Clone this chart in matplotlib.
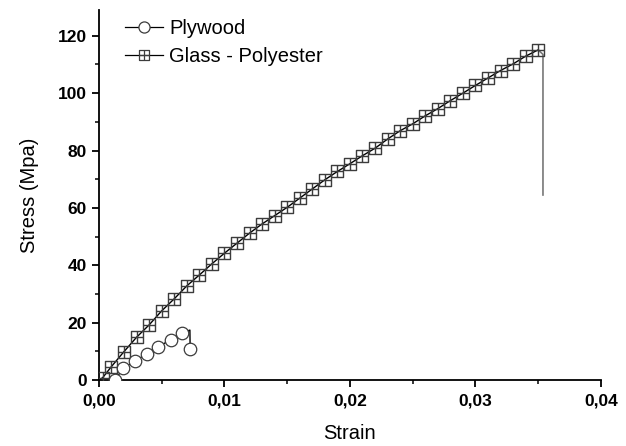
import matplotlib
matplotlib.use("Agg")
import matplotlib.pyplot as plt
from matplotlib.path import Path
from matplotlib.lines import Line2D
from matplotlib.ticker import MultipleLocator, FuncFormatter

plt.rcParams['font.family'] = ['Liberation Sans', 'DejaVu Sans']

# Plywood: stress-strain record (last point is after failure)
ply_strain = [0.00127, 0.00194, 0.00287, 0.0038, 0.00473, 0.00571, 0.00664, 0.00725, 0.00727]
ply_stress = [0.0, 4.1, 6.6, 9.1, 11.6, 14.0, 16.3, 17.4, 10.7]
ply_marked = [0, 1, 2, 3, 4, 5, 6, 8]

# Glass - Polyester: sampled curve up to peak
gp_strain = [0.0, 0.0003, 0.001, 0.002, 0.003, 0.004, 0.005, 0.006, 0.007, 0.008, 0.009,
             0.010, 0.011, 0.012, 0.013, 0.014, 0.015, 0.016, 0.017, 0.018, 0.019,
             0.020, 0.021, 0.022, 0.023, 0.024, 0.025, 0.026, 0.027, 0.028, 0.029,
             0.030, 0.031, 0.032, 0.033, 0.034, 0.035]
gp_stress = [0.0, 0.8, 4.7, 9.9, 14.9, 19.2, 24.1, 28.3, 32.8, 36.6, 40.5,
             44.2, 47.7, 51.2, 54.4, 57.3, 60.2, 63.4, 66.6, 69.8, 72.7,
             75.4, 78.2, 80.8, 84.0, 86.9, 89.3, 92.1, 94.6, 97.4, 100.0,
             102.7, 105.3, 107.9, 110.2, 112.9, 115.1]
# Failure: brief softening then sudden drop
gp_fail_strain = [0.035, 0.03538, 0.03538]
gp_fail_stress = [115.1, 113.5, 64.5]

x_ticks = [0.00, 0.01, 0.02, 0.03, 0.04]
y_ticks = [0, 20, 40, 60, 80, 100, 120]

# square with a cross inside
sq_plus = Path(
    [(-1, -1), (1, -1), (1, 1), (-1, 1), (-1, -1),
     (0, -1), (0, 1), (-1, 0), (1, 0)],
    [Path.MOVETO, Path.LINETO, Path.LINETO, Path.LINETO, Path.LINETO,
     Path.MOVETO, Path.LINETO, Path.MOVETO, Path.LINETO])

fig = plt.figure(figsize=(6.26, 4.46), dpi=100)
ax = fig.add_axes([0.158, 0.148, 0.802, 0.8296])

mk_col = '#3c3c3c'

# Glass - Polyester
ax.plot(gp_strain, gp_stress, color='black', lw=1.0, zorder=2)
ax.plot(gp_fail_strain, gp_fail_stress, color='#777777', lw=1.2, zorder=2)
ax.plot(gp_strain[1:], gp_stress[1:], ls='none', marker=sq_plus, ms=8,
        mfc='none', mec=mk_col, mew=1.0, zorder=3)

# Plywood
ax.plot(ply_strain, ply_stress, color='black', lw=1.0, zorder=2)
ax.plot([ply_strain[i] for i in ply_marked], [ply_stress[i] for i in ply_marked],
        ls='none', marker='o', ms=9, mfc='white', mec=mk_col, mew=0.9, zorder=3)

ax.set_xlim(0, 0.04)
ax.set_ylim(0, 129)
ax.set_xticks(x_ticks)
ax.set_yticks(y_ticks)
ax.xaxis.set_minor_locator(MultipleLocator(0.005))
ax.yaxis.set_minor_locator(MultipleLocator(10))
ax.xaxis.set_major_formatter(FuncFormatter(lambda v, p: f"{v:.2f}".replace('.', ',')))

for s in ['top', 'right']:
    ax.spines[s].set_visible(False)
for s in ['left', 'bottom']:
    ax.spines[s].set_linewidth(1.3)

ax.tick_params(which='major', direction='out', length=5, width=1.3, labelsize=12.5)
ax.tick_params(axis='x', which='major', pad=5)
ax.tick_params(which='minor', direction='out', length=3, width=1.1)
for lab in ax.get_xticklabels() + ax.get_yticklabels():
    lab.set_fontweight('bold')

ax.set_xlabel('Strain', fontsize=14.5, labelpad=11)
ax.set_ylabel('Stress (Mpa)', fontsize=14.5, labelpad=14)

handles = [
    Line2D([], [], color='black', lw=0.9, marker='o', ms=8, mfc='white', mec=mk_col, mew=0.9),
    Line2D([], [], color='black', lw=0.9, marker=sq_plus, ms=7, mfc='none', mec=mk_col, mew=0.9),
]
ax.legend(handles, ['Plywood', 'Glass - Polyester'], loc='upper left',
          bbox_to_anchor=(0.052, 0.975), frameon=False, fontsize=14.5,
          handlelength=1.9, handletextpad=0.3, labelspacing=0.45,
          borderpad=0, borderaxespad=0)

fig.savefig('out.png', dpi=100)
